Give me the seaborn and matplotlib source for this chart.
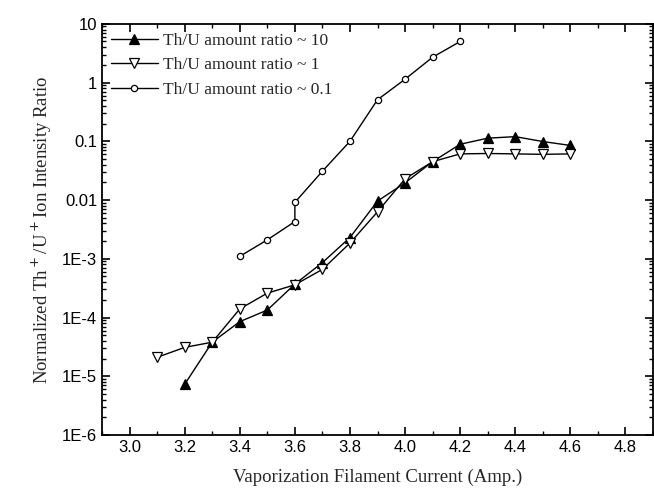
import matplotlib
matplotlib.use('Agg')
import matplotlib.pyplot as plt
import matplotlib.ticker as mticker
import pandas as pd
import numpy as np
import seaborn as sns

# Th/U amount ratio ~ 10
x_r10 = [3.2, 3.3, 3.4, 3.5, 3.6, 3.7, 3.8, 3.9, 4.0, 4.1, 4.2, 4.3, 4.4, 4.5, 4.6]
y_r10 = [7.3e-6, 3.8e-5, 8.5e-5, 1.34e-4, 3.7e-4, 8.6e-4, 2.3e-3, 9.6e-3, 0.0196, 0.045,
         0.089, 0.113, 0.12, 0.099, 0.085]

# Th/U amount ratio ~ 1
x_r1 = [3.1, 3.2, 3.3, 3.4, 3.5, 3.6, 3.7, 3.8, 3.9, 4.0, 4.1, 4.2, 4.3, 4.4, 4.5, 4.6]
y_r1 = [2.1e-5, 3.1e-5, 3.8e-5, 1.4e-4, 2.6e-4, 3.6e-4, 6.6e-4, 1.85e-3, 6.3e-3, 0.023,
        0.045, 0.061, 0.062, 0.061, 0.06, 0.061]

# Th/U amount ratio ~ 0.1
x_r01 = [3.4, 3.5, 3.6, 3.6, 3.7, 3.8, 3.9, 4.0, 4.1, 4.2]
y_r01 = [1.1e-3, 2.1e-3, 4.3e-3, 9.1e-3, 0.031, 0.1, 0.51, 1.14, 2.7, 5.0]

labels = ['Th/U amount ratio ~ 10', 'Th/U amount ratio ~ 1', 'Th/U amount ratio ~ 0.1']
ytick_vals = [1e-6, 1e-5, 1e-4, 1e-3, 0.01, 0.1, 1, 10]
ytick_labels = ['1E-6', '1E-5', '1E-4', '1E-3', '0.01', '0.1', '1', '10']

sns.set_theme(style='ticks')
plt.rcParams['font.family'] = ['Liberation Sans', 'DejaVu Sans']

fig = plt.figure(figsize=(6.54, 4.96), dpi=100)
ax = fig.add_axes([0.156, 0.123, 0.8425, 0.829])

series = [
    (x_r10, y_r10, '^', 'black', 7.5, labels[0]),
    (x_r1, y_r1, 'v', 'white', 7.5, labels[1]),
    (x_r01, y_r01, 'o', 'white', 4.5, labels[2]),
]
for xs, ys, mk, fc, ms, lab in series:
    df = pd.DataFrame({'x': xs, 'y': ys})
    sns.lineplot(data=df, x='x', y='y', ax=ax, estimator=None, sort=False,
                 color='black', linewidth=1, marker=mk, markersize=ms,
                 markerfacecolor=fc, markeredgecolor='black', markeredgewidth=0.9,
                 label=lab)

ax.set_yscale('log')
ax.set_xlim(2.9, 4.9)
ax.set_ylim(1e-6, 10)
ax.set_yticks(ytick_vals)
ax.set_yticklabels(ytick_labels)
ax.yaxis.set_minor_locator(mticker.LogLocator(base=10, subs=np.arange(2, 10)))
ax.yaxis.set_minor_formatter(mticker.NullFormatter())
ax.set_xticks(np.arange(3.0, 4.81, 0.2))
ax.set_xticklabels([f'{v:.1f}' for v in np.arange(3.0, 4.81, 0.2)])
ax.xaxis.set_minor_locator(mticker.MultipleLocator(0.1))

ax.tick_params(which='both', direction='in', top=True, right=True, labelsize=12, colors='black')
ax.tick_params(which='major', length=6, width=1.2)
ax.tick_params(which='minor', length=3, width=1)
for sp in ax.spines.values():
    sp.set_linewidth(1.3)
    sp.set_color('black')

serif = ['Liberation Serif', 'DejaVu Serif']
ax.set_xlabel('Vaporization Filament Current (Amp.)', fontsize=13.5, family=serif, labelpad=10)
ax.set_ylabel('Normalized Th$^+$/U$^+$Ion Intensity Ratio', fontsize=13.5, family=serif, labelpad=6)

leg = ax.legend(loc='upper left', frameon=False, prop={'family': serif, 'size': 12.5},
                handlelength=2.7, handletextpad=0.3, borderaxespad=0.1, borderpad=0.4,
                labelspacing=0.5)

fig.savefig('out.png', dpi=100)
